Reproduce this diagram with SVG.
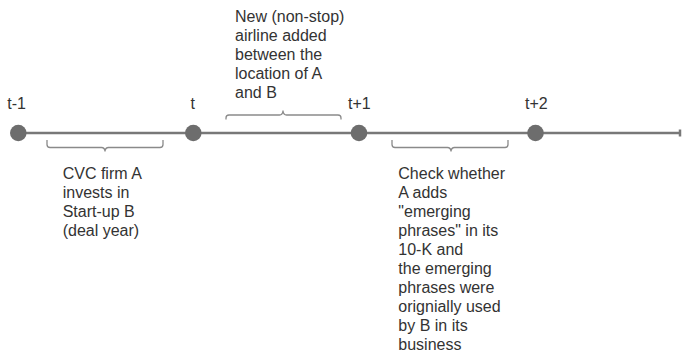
<svg xmlns="http://www.w3.org/2000/svg" width="682" height="354" viewBox="0 0 682 354">
  <style>
    .axis { stroke: #787878; stroke-width: 2.5; fill: none; }
    .dot { fill: #6d6d6d; }
    .brace { stroke: #8a8a8a; stroke-width: 1.3; fill: none; stroke-linejoin: round; }
    .lbl { font-family: "Liberation Sans", Arial, sans-serif; font-size: 16px; fill: #333333; }
  </style>
  <rect width="682" height="354" fill="#ffffff"/>

  <!-- timeline axis and braces -->
  <g id="connectors">
    <line class="axis" x1="18" y1="133" x2="680" y2="133"/>
    <line class="axis" x1="680" y1="129.5" x2="680" y2="136.5" stroke-width="2"/>
    <path class="brace" d="M47,140 V144.5 q0,3 3,3 H101.5 q3,0 3.5,3.5 q0.5,-3.5 3.5,-3.5 H160 q3,0 3,-3 V140"/>
    <path class="brace" d="M226,119.5 V118 q0,-3 3,-3 H279.5 q3,0 3.5,-4 q0.5,4 3.5,4 H338 q3,0 3,3 V119.5"/>
    <path class="brace" d="M392,140 V144.5 q0,3 3,3 H447.5 q3,0 3.5,3.5 q0.5,-3.5 3.5,-3.5 H505 q3,0 3,-3 V140"/>
  </g>

  <!-- time points -->
  <g id="t-1">
    <circle class="dot" cx="18.3" cy="133" r="8.3"/>
    <text class="lbl" x="7.3" y="109">t-1</text>
  </g>
  <g id="t">
    <circle class="dot" cx="193.3" cy="133" r="8.3"/>
    <text class="lbl" x="190.5" y="109">t</text>
  </g>
  <g id="t+1">
    <circle class="dot" cx="359" cy="133" r="8.3"/>
    <text class="lbl" x="348" y="109">t+1</text>
  </g>
  <g id="t+2">
    <circle class="dot" cx="535.5" cy="133" r="8.3"/>
    <text class="lbl" x="525" y="109">t+2</text>
  </g>

  <!-- period annotations -->
  <g id="deal">
    <text class="lbl" x="62.7" y="179.3">
      <tspan x="62.7">CVC firm A</tspan>
      <tspan x="62.7" dy="19">invests in</tspan>
      <tspan x="62.7" dy="19">Start-up B</tspan>
      <tspan x="62.7" dy="19">(deal year)</tspan>
    </text>
  </g>
  <g id="airline">
    <text class="lbl" x="235" y="21.7">
      <tspan x="235">New (non-stop)</tspan>
      <tspan x="235" dy="19">airline added</tspan>
      <tspan x="235" dy="19">between the</tspan>
      <tspan x="235" dy="19">location of A</tspan>
      <tspan x="235" dy="19">and B</tspan>
    </text>
  </g>
  <g id="check">
    <text class="lbl" x="398.3" y="179.3">
      <tspan x="398.3">Check whether</tspan>
      <tspan x="398.3" dy="19">A adds</tspan>
      <tspan x="398.3" dy="19">"emerging</tspan>
      <tspan x="398.3" dy="19">phrases" in its</tspan>
      <tspan x="398.3" dy="19">10-K and</tspan>
      <tspan x="398.3" dy="19">the emerging</tspan>
      <tspan x="398.3" dy="19">phrases were</tspan>
      <tspan x="398.3" dy="19">orignially used</tspan>
      <tspan x="398.3" dy="19">by B in its</tspan>
      <tspan x="398.3" dy="19">business</tspan>
    </text>
  </g>
</svg>
